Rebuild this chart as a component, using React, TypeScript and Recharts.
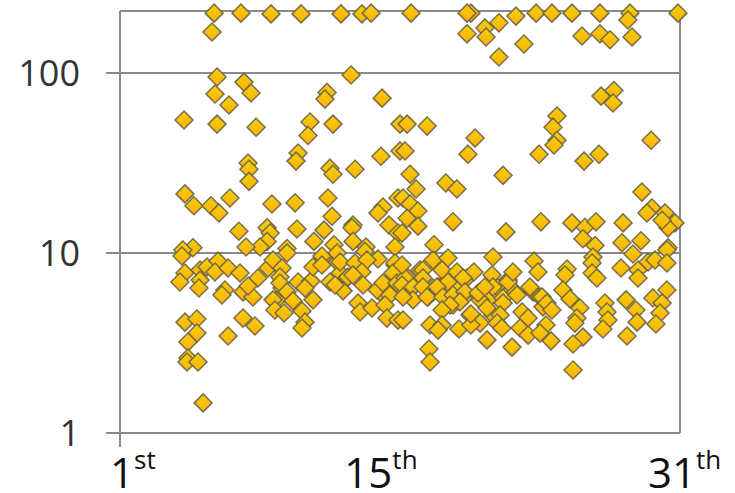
import React from "react";
import { ScatterChart, Scatter, XAxis, YAxis, ReferenceLine } from "recharts";

const xTicks = [1, 15, 31];
const yTicks = [1, 10, 100];
const xSuffix = ["st", "th", "th"];

const topDays = [6.04,7.48,9.09,10.7,12.84,13.96,14.45,5.93,16.59,19.8,19.59,21.3,22.21,23.29,24.14,25.21,26.71,28.32,28.21,30.89,19.59,20.55,20.61,22.64,21.3,25.75,26.71,27.25,28.43];
const topValues = [215,215,213,213,213,213,215,169,215,215,215,190,207,215,215,215,215,215,197,215,165,178,158.5,145,122.7,160.6,165,153,158.5];

const highDays = [6.2,7.64,8.02,6.09,6.84,4.43,6.2,8.29,12.09,11.98,13.38,15.04,11.18,11.07,12.41,16,10.54,10.43,14.98,16,7.86,7.91,7.91,12.25,12.41,13.59,4.48,6.89,12.14,15.89,26.77,27.46,27.41,16.38,17.45,24.41,24.2,24.41,24.25,23.45,20.02,19.64,26.66,25.86,29.45,16.27,16.54,21.52,16.86,18.46,19.05,28.96,16.16];
const highValues = [95,89,77.4,76.4,66.4,54.8,52,50,78,71.6,97.5,72.5,53.4,45,52,52,35.9,32.4,34.5,36.9,31.6,29.2,25,29.6,27.4,29.2,21.3,20.2,20.2,20.2,74.4,80,68.1,52,50.7,57.7,50,42.3,39.8,35.4,43.5,35.4,35.4,32.4,42.3,36.9,27.4,27,22.7,24.5,22.7,21.8,20.2];

const midDays = [4.96,5.87,6.3,9.14,10.38,15.09,14.82,12.36,7.37,8.88,9.04,10.48,11.93,11.39,13.48,13.43,13.48,15.41,15.89,8.88,8.5,7.75,9.95,12.46,14.18,15.73,4.91,4.37,16.54,16.96,29.5,29.23,30.2,30.73,30.36,30.04,16.38,16.96,18.84,23.55,25.21,25.91,26.5,27.95,21.68,25.8,26.45,27.89,28.91,30.36,17.82,16.11];
const midValues = [18.3,18.3,16.7,18.7,19,18,16.7,16,13.2,13.8,12.9,13.6,13.4,11.6,14.3,13.8,11.6,14.3,12.9,11.6,10.8,10.8,10.6,11.1,10.8,10.8,10.7,10.4,18.7,17.1,17.8,16.7,16.7,14.7,13.8,15.2,15.6,14.1,14.9,14.9,14.7,13.9,14.9,14.7,13.1,12,11,11.4,11.7,10.7,11.1,12.9];

const lowDaysA = [4.32,9.95,11.82,12.63,14.82,4.48,4.21,5.29,5.66,6.25,6.09,6.79,7.43,5.29,5.23,6.62,6.46,7.59,8.39,8.12,7.86,8.93,9.2,9.68,9.57,9.57,9.95,9.2,10.27,9.3,9.79,10.75,11.34,10.91,10.75,10.54,11.23,10.91,11.34,11.82,12.79,12.25,12.95,13.21,12.52,13.59,14.23,13.96,13.48,14.02,14.77,15.09,15.73,15.62,15.46,13.75,13.86,14.5,15.2,15.3,15.89,15.84,7.59,8.23,6.79,4.48,5.12,5.12,4.64,4.64,4.59,5.18,5.45];
const lowValuesA = [9.62,10,9.62,10,9.26,7.74,6.9,8.05,8.36,9.02,7.84,8.25,7.74,7.07,6.39,6.23,5.85,6.08,7.26,5.7,6.56,8.25,9.14,8.25,7.35,6.81,6.08,5.49,5.42,4.82,4.64,4.76,5.49,4.13,3.83,6.9,6.98,6.39,8.36,8.58,8.91,6.9,6.16,7.35,6.64,8.8,9.14,7.84,7.54,6.64,6.23,6.81,8.8,7.74,5.85,5.27,4.7,4.95,5.14,4.35,4.24,6.81,4.35,3.93,3.46,4.13,4.3,3.59,3.2,2.61,2.48,2.48,1.47];

const lowDaysB = [17.77,18.57,18.25,19.05,19.96,19.38,18.57,17.23,17.23,16.27,16.11,16.11,16.7,16.7,16.16,17.23,17.45,17.98,18.3,18.84,19.48,19.21,18.68,18.25,16.16,17.61,18.25,18.04,19.16,19.8,19.8,20.29,20.18,20.66,20.93,20.98,20.55,20.98,21.79,22.05,21.52,21.36,21.2,21.46,20.66,22,22.27,22.54,22.86,22.96,23.61,23.87,24.14,23.18,23.39,23.82,22.43,22.86,23.5,24.09,17.55,17.61,24.95,24.84,24.73,25.11,25.64,25.48,25.37,25.8,25.27,25.27,26.34,26.29,26.29,26.55,26.98,27.09,27.14,26.87,28.16,28.11,28.64,28.7,28.48,27.84,28.75,28.75,29.29,29.66,30.3,30.3,30.3,29.55,30.04,29.93,29.71];
const lowValuesB = [9.14,9.38,8.05,7.84,7.84,7.26,6.9,8.05,7.26,7.26,8.58,6.64,6.47,5.49,5.7,6.47,5.7,6.47,5.7,5.85,6.08,5.35,5.14,4.82,4.24,3.98,3.98,3.73,3.78,3.98,4.58,5.49,5.99,4.95,7.54,6.47,6.47,9.5,6.9,7.84,5.27,4.52,4.08,3.83,3.29,3,5.85,4.7,4.35,6.47,5.7,5.27,4.82,9.02,7.84,3.98,3.83,3.5,3.59,3.25,2.93,2.48,8.15,7.54,6.23,5.56,4.95,4.35,4.08,3.41,3.12,2.24,9.5,8.8,7.74,7.26,5.27,4.7,4.24,3.78,3.46,5.49,4.82,4.13,9.87,8.25,8.05,7.26,8.91,9.14,10.4,8.8,6.23,5.63,5.27,4.64,4.03];

const denseDays = [18.52,19.05,18.68,17.77,18.04,19.38,18.84,20.71,21.2,21.52,21.79,22.16,23.13,23.5,23.66,20.98,19.75,20.29,17.07,16.38,16.54,17.5,19.59,9.57,9.41,9.68,11.87,12.63,12.79,13.16,14.12,15.73,16.16,15.73,14.93];
const denseValues = [7.07,6.23,5.63,6.39,6.47,5.63,5.14,5.49,6.47,5.63,7.07,6.08,6.08,5.7,5.02,4.52,4.52,4.08,8.05,7.35,6.23,5.7,7.26,8.25,5.49,6.39,9.38,8.91,7.74,7.26,10.2,8.58,7.35,6.81,6.08];

const pair = (d: number[], v: number[]) => d.map((day, i) => ({ day, value: v[i] }));
const points = [
  ...pair(topDays, topValues),
  ...pair(highDays, highValues),
  ...pair(midDays, midValues),
  ...pair(denseDays, denseValues),
  ...pair(lowDaysA, lowValuesA),
  ...pair(lowDaysB, lowValuesB),
];

const FONT = "'Open Sans', sans-serif";
const LINE = "#8a8a8a";

const Diamond = (props: any) => {
  const { cx, cy } = props;
  const r = 9;
  return (
    <polygon
      points={`${cx},${cy - r} ${cx + r},${cy} ${cx},${cy + r} ${cx - r},${cy}`}
      fill="url(#gold)"
      stroke="#6b6244"
      strokeWidth={1.5}
      strokeOpacity={0.9}
    />
  );
};

const XTick = (props: any) => {
  const { x, y, payload } = props;
  const i = xTicks.indexOf(payload.value);
  const shift = [-10, -37, -32][i];
  return (
    <g>
      {i === 0 && <line x1={x} x2={x} y1={y - 8} y2={y + 6} stroke={LINE} strokeWidth={2} />}
      <text x={x + shift} y={y + 47} fontFamily={FONT} fill="#111" fontSize={42}>
        {payload.value}
        <tspan fontSize={26} dy={-19}>{xSuffix[i]}</tspan>
      </text>
    </g>
  );
};

export default function App() {
  return (
    <div style={{ position: "absolute", left: 0, top: 0, width: 735, height: 493, overflow: "hidden" }}>
      <ScatterChart width={735} height={493} margin={{ left: 0, right: 55, top: 11, bottom: 0 }}>
        <defs>
          <linearGradient id="gold" x1="0" y1="0" x2="0" y2="1">
            <stop offset="0%" stopColor="#F0D010" />
            <stop offset="100%" stopColor="#FFB000" />
          </linearGradient>
        </defs>
        <XAxis
          type="number"
          dataKey="day"
          domain={[1, 31]}
          ticks={xTicks}
          interval={0}
          height={60}
          tickLine={false}
          axisLine={{ stroke: LINE, strokeWidth: 2 }}
          tick={<XTick />}
        />
        <YAxis
          type="number"
          dataKey="value"
          scale="log"
          domain={[1, 221]}
          ticks={yTicks}
          interval={0}
          width={120}
          tickSize={14}
          tickMargin={26}
          tickLine={{ stroke: LINE, strokeWidth: 2 }}
          axisLine={{ stroke: LINE, strokeWidth: 2 }}
          tick={{ fontFamily: FONT, fontSize: 36, fill: "#333" }}
        />
        <ReferenceLine y={100} stroke={LINE} strokeWidth={2} />
        <ReferenceLine y={10} stroke={LINE} strokeWidth={2} />
        <ReferenceLine y={221} stroke={LINE} strokeWidth={2} />
        <ReferenceLine x={31} stroke={LINE} strokeWidth={2} />
        <Scatter data={points} shape={<Diamond />} isAnimationActive={false} />
      </ScatterChart>
    </div>
  );
}
